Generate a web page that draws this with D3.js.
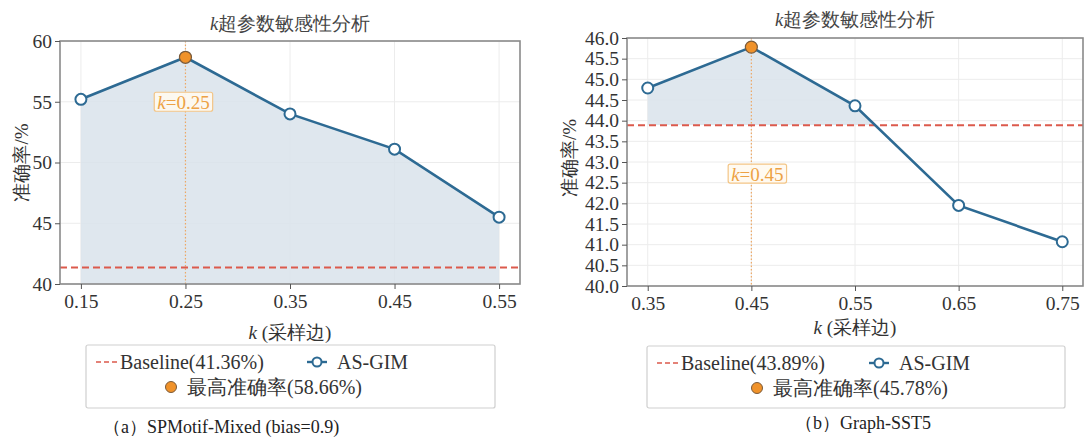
<!DOCTYPE html>
<html>
<head>
<meta charset="utf-8">
<script src="https://cdn.jsdelivr.net/npm/d3@7"></script>
<style>
  body { margin: 0; background: #fff; }
  svg { display: block; }
</style>
</head>
<body>
<svg id="chart" width="1084" height="438"></svg>
<script>
// ---- data ----
const kA = [0.15, 0.25, 0.35, 0.45, 0.55];
const accA = [55.2, 58.66, 54.0, 51.1, 45.5];
const baselineA = 41.36;
const yTicksA = [40, 45, 50, 55, 60];

const kB = [0.35, 0.45, 0.55, 0.65, 0.75];
const accB = [44.79, 45.78, 44.36, 41.95, 41.07];
const baselineB = 43.89;
const yTicksB = [40, 40.5, 41, 41.5, 42, 42.5, 43, 43.5, 44, 44.5, 45, 45.5, 46];

const captions = ["（a）SPMotif-Mixed (bias=0.9)", "（b）Graph-SST5"];

const FONT = '"Liberation Serif"';

const lineColor = "#2d6a93";
const fillColor = "#d9e3eb";
const baseColor = "#dc5a4c";
const bestColor = "#f0922a";
const annColor = "#eda245";
const textColor = "#333";

const svg = d3.select("#chart");

function label(sel) {
  return sel.append("text").style("font-family", FONT);
}

function drawPanel(cfg) {
  const g = svg.append("g");
  const x = d3.scaleLinear().domain(cfg.xDomain).range([cfg.x0, cfg.x1]);
  const y = d3.scaleLinear().domain(cfg.yDomain).range([cfg.y1, cfg.y0]);

  // grid
  g.append("g").selectAll("line").data(cfg.yTicks).enter().append("line")
    .attr("x1", cfg.x0).attr("x2", cfg.x1)
    .attr("y1", d => y(d)).attr("y2", d => y(d))
    .attr("stroke", "#ececec").attr("stroke-width", 1);
  g.append("g").selectAll("line").data(cfg.ks).enter().append("line")
    .attr("x1", d => x(d)).attr("x2", d => x(d))
    .attr("y1", cfg.y0).attr("y2", cfg.y1)
    .attr("stroke", "#ececec").attr("stroke-width", 1);

  const pts = cfg.ks.map((k, i) => ({ k: k, v: cfg.acc[i] }));
  const bestIdx = d3.maxIndex(cfg.acc);
  const best = pts[bestIdx];

  // fill, clipped above the fill base
  const clipId = "clip" + cfg.id;
  g.append("clipPath").attr("id", clipId).append("rect")
    .attr("x", cfg.x0).attr("y", cfg.y0)
    .attr("width", cfg.x1 - cfg.x0).attr("height", y(cfg.fillBase) - cfg.y0);
  g.append("path").datum(pts)
    .attr("clip-path", `url(#${clipId})`)
    .attr("fill", fillColor).attr("opacity", 0.85)
    .attr("d", d3.area().x(d => x(d.k)).y0(y(cfg.fillBase)).y1(d => y(d.v)));

  // best k vertical dotted line
  g.append("line")
    .attr("x1", x(best.k)).attr("x2", x(best.k))
    .attr("y1", cfg.y0).attr("y2", cfg.y1)
    .attr("stroke", "#eea865").attr("stroke-width", 1.2)
    .attr("stroke-dasharray", "1.5,2");

  // baseline
  g.append("line")
    .attr("x1", cfg.x0).attr("x2", cfg.x1)
    .attr("y1", y(cfg.baseline)).attr("y2", y(cfg.baseline))
    .attr("stroke", baseColor).attr("stroke-width", 2)
    .attr("stroke-dasharray", "7,4");

  // line
  g.append("path").datum(pts)
    .attr("fill", "none").attr("stroke", lineColor).attr("stroke-width", 2.6)
    .attr("d", d3.line().x(d => x(d.k)).y(d => y(d.v)));

  g.append("g").selectAll("circle").data(pts.filter((d, i) => i !== bestIdx))
    .enter().append("circle")
    .attr("cx", d => x(d.k)).attr("cy", d => y(d.v)).attr("r", 5.5)
    .attr("fill", "#fff").attr("stroke", lineColor).attr("stroke-width", 2);

  g.append("circle")
    .attr("cx", x(best.k)).attr("cy", y(best.v)).attr("r", 6)
    .attr("fill", bestColor).attr("stroke", "#7a5a3a").attr("stroke-width", 1.2);

  // annotation
  const ann = g.append("g");
  const annText = label(ann)
    .attr("x", x(best.k) + cfg.annDx).attr("y", y(cfg.annY))
    .attr("text-anchor", "middle").attr("dominant-baseline", "central")
    .attr("font-size", 19).attr("fill", annColor);
  annText.append("tspan").attr("font-style", "italic").text("k");
  annText.append("tspan").text("=" + best.k.toFixed(2));
  const bb = annText.node().getBBox();
  ann.insert("rect", "text")
    .attr("x", bb.x - 3).attr("y", bb.y + 1)
    .attr("width", bb.width + 6).attr("height", bb.height - 2)
    .attr("rx", 2)
    .attr("fill", "#fffaf0").attr("fill-opacity", 0.9)
    .attr("stroke", "#f3c586").attr("stroke-width", 1.2);

  // frame
  g.append("rect")
    .attr("x", cfg.x0).attr("y", cfg.y0)
    .attr("width", cfg.x1 - cfg.x0).attr("height", cfg.y1 - cfg.y0)
    .attr("fill", "none").attr("stroke", "#8a8a8a").attr("stroke-width", 1.6);

  // axes
  const xAxis = g.append("g").attr("transform", `translate(0,${cfg.y1})`)
    .call(d3.axisBottom(x).tickValues(cfg.ks).tickFormat(d3.format(".2f"))
      .tickSize(5).tickPadding(5));
  const yAxis = g.append("g").attr("transform", `translate(${cfg.x0},0)`)
    .call(d3.axisLeft(y).tickValues(cfg.yTicks).tickFormat(d3.format(cfg.yFormat))
      .tickSize(5).tickPadding(3));
  [xAxis, yAxis].forEach(a => {
    a.select(".domain").remove();
    a.selectAll(".tick line").attr("stroke", "#555").attr("stroke-width", 1);
    a.selectAll(".tick text").style("font-family", FONT)
      .attr("font-size", 19.5).attr("fill", textColor);
  });

  const cx = (cfg.x0 + cfg.x1) / 2;

  // title
  const title = label(g).attr("x", cx).attr("y", cfg.titleY)
    .attr("text-anchor", "middle").attr("font-size", 18.5).attr("fill", "#444");
  title.append("tspan").attr("font-style", "italic").text("k");
  title.append("tspan").text("超参数敏感性分析");

  // x label
  const xl = label(g).attr("x", cx).attr("y", cfg.xLabelY)
    .attr("text-anchor", "middle").attr("font-size", 19).attr("fill", textColor);
  xl.append("tspan").attr("font-style", "italic").text("k");
  xl.append("tspan").text(" (采样边)");

  // y label
  label(g)
    .attr("transform", `translate(${cfg.yLabelX},${(cfg.y0 + cfg.y1) / 2 + cfg.yLabelDy}) rotate(-90)`)
    .attr("text-anchor", "middle").attr("dominant-baseline", "central")
    .attr("font-size", 19).attr("fill", textColor).text("准确率/%");

  // legend
  const L = cfg.legend;
  const lg = g.append("g").attr("transform", `translate(${L.x},${L.y})`);
  lg.append("rect").attr("width", L.w).attr("height", L.h).attr("rx", 2)
    .attr("fill", "#fff").attr("stroke", "#cfcfcf").attr("stroke-width", 1.2);
  const r1 = 17, r2 = 42;
  lg.append("line").attr("x1", L.dash).attr("x2", L.dash + 21).attr("y1", r1).attr("y2", r1)
    .attr("stroke", baseColor).attr("stroke-width", 1.6).attr("stroke-dasharray", "5,3");
  label(lg).attr("x", L.dash + 24).attr("y", r1).attr("dominant-baseline", "central")
    .attr("font-size", 20).attr("fill", textColor)
    .text(`Baseline(${cfg.baseline.toFixed(2)}%)`);
  lg.append("line").attr("x1", L.mark).attr("x2", L.mark + 20).attr("y1", r1).attr("y2", r1)
    .attr("stroke", lineColor).attr("stroke-width", 2.4);
  lg.append("circle").attr("cx", L.mark + 10).attr("cy", r1).attr("r", 4.5)
    .attr("fill", "#fff").attr("stroke", lineColor).attr("stroke-width", 2);
  label(lg).attr("x", L.mark + 30).attr("y", r1).attr("dominant-baseline", "central")
    .attr("font-size", 20).attr("fill", textColor).text("AS-GIM");
  lg.append("circle").attr("cx", L.dot).attr("cy", r2).attr("r", 5.5)
    .attr("fill", bestColor).attr("stroke", "#7a5a3a").attr("stroke-width", 1);
  label(lg).attr("x", L.dot + 16).attr("y", r2).attr("dominant-baseline", "central")
    .attr("font-size", 20).attr("fill", textColor)
    .text(`最高准确率(${best.v.toFixed(2)}%)`);

  // caption
  label(g).attr("x", cfg.capX).attr("y", cfg.capY)
    .attr("font-size", 18).attr("fill", "#222").text(cfg.caption);
}

drawPanel({
  id: "A", ks: kA, acc: accA, baseline: baselineA, yTicks: yTicksA, yFormat: "d",
  xDomain: [0.13, 0.57], yDomain: [40, 60], fillBase: 40,
  x0: 60, x1: 520, y0: 41, y1: 284,
  annY: 55.0, annDx: -2,
  titleY: 30, xLabelY: 339, yLabelX: 21, yLabelDy: 0,
  legend: { x: 86, y: 345, w: 409, h: 63, dash: 10, mark: 221, dot: 85 },
  caption: captions[0], capX: 103, capY: 433
});

drawPanel({
  id: "B", ks: kB, acc: accB, baseline: baselineB, yTicks: yTicksB, yFormat: ".1f",
  xDomain: [0.33, 0.77], yDomain: [40, 46], fillBase: baselineB,
  x0: 627, x1: 1083, y0: 38, y1: 286,
  annY: 42.72, annDx: 6,
  titleY: 26, xLabelY: 334, yLabelX: 569, yLabelDy: -4,
  legend: { x: 647, y: 346, w: 418, h: 62, dash: 10, mark: 222, dot: 110 },
  caption: captions[1], capX: 795, capY: 429
});
</script>
</body>
</html>
